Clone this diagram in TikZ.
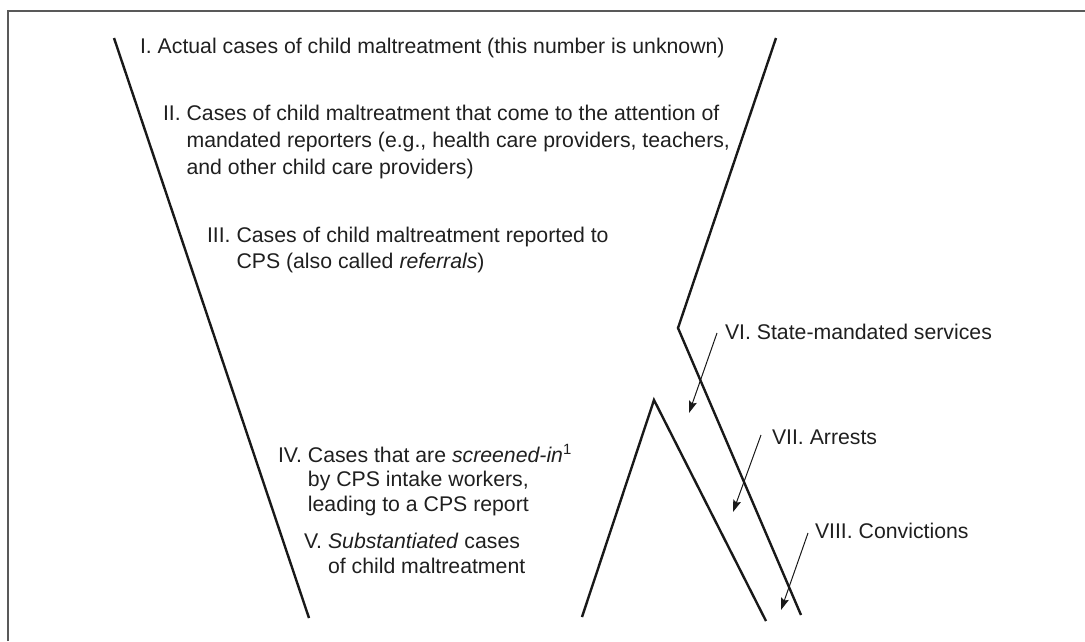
\documentclass[tikz,border=0pt]{standalone}
\usepackage{fontspec}
\setmainfont{Liberation Sans}
\usetikzlibrary{arrows.meta}
\begin{document}
\begin{tikzpicture}[x=1pt,y=-1pt,
  funnel/.style={line width=2.4pt, black!90, line join=miter},
  frameline/.style={line width=1.5pt, black!65},
  lbl/.style={anchor=base west, inner sep=0pt, outer sep=0pt, text=black!88},
  ptr/.style={line width=1pt, black!90, -{Stealth[length=12pt,width=8pt,inset=2pt]}}]
\useasboundingbox (0,0) rectangle (1085,641);
\draw[frameline] (8,641) -- (8,11) -- (1085,11);
% funnel
\draw[funnel] (114,38) -- (309,618);
\draw[funnel] (776,38) -- (678,328) -- (801,615);
\draw[funnel] (582,617) -- (654,400) -- (766,621);
% labels
\node[lbl, font=\fontsize{21.25}{27}\selectfont] (l1) at (140,53)
  {I. Actual cases of child maltreatment (this number is unknown)};
\node[lbl, font=\fontsize{21.25}{27}\selectfont] (l2) at (163,120)
  {\begin{tabular}[t]{@{}l@{\ }l@{}}II. & Cases of child maltreatment that come to the attention of\\
   & mandated reporters (e.g., health care providers, teachers,\\
   & and other child care providers)\end{tabular}};
\node[lbl, font=\fontsize{21.25}{26}\selectfont] (l3) at (207,242)
  {\begin{tabular}[t]{@{}l@{\ }l@{}}III. & Cases of child maltreatment reported to\\
   & CPS (also called \textit{referrals})\end{tabular}};
\node[lbl, font=\fontsize{21.25}{24.5}\selectfont] (l4) at (278,462)
  {\begin{tabular}[t]{@{}l@{\ }l@{}}IV. & Cases that are \textit{screened-in}\textsuperscript{1}\\
   & by CPS intake workers,\\
   & leading to a CPS report\end{tabular}};
\node[lbl, font=\fontsize{21.25}{25}\selectfont] (l5) at (304,548)
  {\begin{tabular}[t]{@{}l@{\ }l@{}}V. & \textit{Substantiated} cases\\
   & of child maltreatment\end{tabular}};
\node[lbl, font=\fontsize{21.25}{27}\selectfont] (l6) at (725,339) {VI. State-mandated services};
\node[lbl, font=\fontsize{21.25}{27}\selectfont] (l7) at (772,444) {VII. Arrests};
\node[lbl, font=\fontsize{21.25}{27}\selectfont] (l8) at (815,538) {VIII. Convictions};
% pointers
\coordinate (p6s) at (717,333); \coordinate (p6e) at (689,413);
\coordinate (p7s) at (761,435); \coordinate (p7e) at (733,512);
\coordinate (p8s) at (808,533); \coordinate (p8e) at (781,610);
\draw[ptr] (p6s) -- (p6e);
\draw[ptr] (p7s) -- (p7e);
\draw[ptr] (p8s) -- (p8e);
\end{tikzpicture}
\end{document}
